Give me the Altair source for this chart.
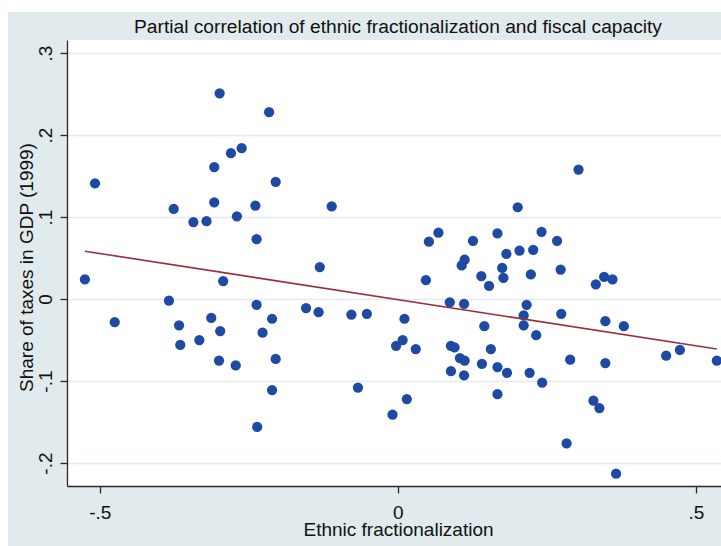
import altair as alt
import pandas as pd

# Ethnic fractionalization (residual) and share of taxes in GDP, 1999 (residual)
ethnic_frac = [
    -0.525, -0.508, -0.475, -0.384, -0.376, -0.367, -0.365, -0.343, -0.333, -0.321,
    -0.313, -0.308, -0.308, -0.300, -0.299, -0.298, -0.293, -0.280, -0.272, -0.270,
    -0.262, -0.239, -0.237, -0.237, -0.236, -0.227, -0.216, -0.211, -0.211, -0.205,
    -0.205, -0.154, -0.133, -0.131, -0.111, -0.078, -0.067, -0.052,
    -0.009, -0.003, 0.008, 0.011, 0.015, 0.030, 0.047, 0.052, 0.068, 0.087,
    0.089, 0.089, 0.095, 0.104, 0.107, 0.111, 0.111, 0.112, 0.112, 0.126,
    0.140, 0.141, 0.145, 0.153, 0.156, 0.167, 0.167, 0.167, 0.175, 0.177,
    0.182, 0.183, 0.201, 0.204, 0.211, 0.211, 0.216, 0.221, 0.223, 0.227,
    0.232, 0.241, 0.242, 0.267, 0.273, 0.274, 0.283, 0.289, 0.303, 0.328,
    0.332, 0.338, 0.346, 0.348, 0.348, 0.360, 0.366, 0.379, 0.450, 0.473,
    0.535,
]
tax_share = [
    0.024, 0.141, -0.028, -0.002, 0.110, -0.032, -0.056, 0.094, -0.050, 0.095,
    -0.023, 0.161, 0.118, -0.075, 0.251, -0.039, 0.022, 0.178, -0.081, 0.101,
    0.184, 0.114, 0.073, -0.007, -0.156, -0.041, 0.228, -0.024, -0.111, 0.143,
    -0.073, -0.011, -0.016, 0.039, 0.113, -0.019, -0.108, -0.018,
    -0.141, -0.057, -0.050, -0.024, -0.122, -0.061, 0.023, 0.070, 0.081, -0.004,
    -0.057, -0.088, -0.059, -0.072, 0.041, -0.006, -0.093, 0.048, -0.075, 0.071,
    0.028, -0.079, -0.033, 0.016, -0.061, 0.080, -0.083, -0.116, 0.038, 0.026,
    0.055, -0.090, 0.112, 0.059, -0.020, -0.032, -0.007, -0.090, 0.030, 0.060,
    -0.044, 0.082, -0.102, 0.071, 0.036, -0.018, -0.176, -0.074, 0.158, -0.124,
    0.018, -0.133, 0.027, -0.027, -0.078, 0.024, -0.213, -0.033, -0.069, -0.062,
    -0.075,
]

x_ticks = [-0.5, 0.0, 0.5]
x_tick_labels = ["-.5", "0", ".5"]
y_ticks = [-0.2, -0.1, 0.0, 0.1, 0.2, 0.3]
y_tick_labels = ["-.2", "-.1", "0", ".1", ".2", ".3"]

chart_title = "Partial correlation of ethnic fractionalization and fiscal capacity"

FONT = "Liberation Sans"
TEXT = "#111111"
AXIS = "#2a2a2a"
BG = "#E1EAEC"

W, H = 654, 446


def label_expr(ticks, labels):
    expr = "''"
    for t, lab in zip(ticks, labels):
        expr = f"abs(datum.value - ({t})) < 1e-9 ? '{lab}' : ({expr})"
    return expr


df = pd.DataFrame({"ethnic_frac": ethnic_frac, "tax_share": tax_share})

x_scale = alt.Scale(domain=[-0.555, 0.542], nice=False, zero=False)
y_scale = alt.Scale(domain=[-0.228, 0.316], nice=False, zero=False)

x_axis = alt.Axis(
    values=x_ticks, labelExpr=label_expr(x_ticks, x_tick_labels),
    grid=False, domainColor=AXIS, domainWidth=1.3,
    tickColor=AXIS, tickWidth=1.3, tickSize=7,
    labelFont=FONT, labelFontSize=19, labelColor=TEXT,
    labelBaseline="alphabetic", labelPadding=25, labelFlush=False,
    title="Ethnic fractionalization", titleFont=FONT, titleFontSize=19,
    titleFontWeight="normal", titleColor=TEXT,
    titleX=331, titleY=49, titleAlign="center", titleBaseline="alphabetic",
)
y_axis = alt.Axis(
    values=y_ticks, labelExpr=label_expr(y_ticks, y_tick_labels),
    grid=True, gridColor="#E3EAEC", gridWidth=1.6,
    domainColor=AXIS, domainWidth=1.3,
    tickColor=AXIS, tickWidth=1.3, tickSize=7,
    labelFont=FONT, labelFontSize=19, labelColor=TEXT,
    labelAngle=270, labelAlign="center", labelBaseline="middle",
    labelPadding=15, labelFlush=False,
    title="Share of taxes in GDP (1999)", titleFont=FONT, titleFontSize=19,
    titleFontWeight="normal", titleColor=TEXT, titleAngle=270,
    titleX=-35, titleY=227, titleAlign="center", titleBaseline="alphabetic",
)

base = alt.Chart(df)

points = base.mark_circle(size=105, color="#1F4AA4", opacity=1, clip=True).encode(
    x=alt.X("ethnic_frac:Q", scale=x_scale, axis=x_axis),
    y=alt.Y("tax_share:Q", scale=y_scale, axis=y_axis),
)

fit = base.transform_regression("ethnic_frac", "tax_share").mark_line(
    color="#9C2E38", strokeWidth=1.6, clip=True
).encode(
    x=alt.X("ethnic_frac:Q", scale=x_scale),
    y=alt.Y("tax_share:Q", scale=y_scale),
)

# thin white border along the top and left edges of the figure
strip_src = alt.Chart(pd.DataFrame({"k": [0]}))
top_strip = strip_src.mark_rect(color="white", clip=False).encode(
    x=alt.value(-67), x2=alt.value(W + 10), y=alt.value(-40), y2=alt.value(-28)
)
left_strip = strip_src.mark_rect(color="white", clip=False).encode(
    x=alt.value(-67), x2=alt.value(-59), y=alt.value(-40), y2=alt.value(H + 70)
)

# chart heading, centred over the full plot region
heading = alt.Chart(pd.DataFrame({"label": [chart_title]})).mark_text(
    font=FONT, fontSize=19.2, color=TEXT, align="center",
    baseline="alphabetic", clip=False,
).encode(text="label:N", x=alt.value(331), y=alt.value(-7))

chart = (
    alt.layer(points, fit, top_strip, left_strip, heading)
    .properties(
        width=W,
        height=H,
        padding={"left": 67, "top": 40, "right": 0, "bottom": 60},
        autosize=alt.AutoSizeParams(type="none"),
        background=BG,
    )
    .configure_view(stroke=None, fill="white")
)

chart.save("out.html", embed_options={"renderer": "svg", "actions": False})
